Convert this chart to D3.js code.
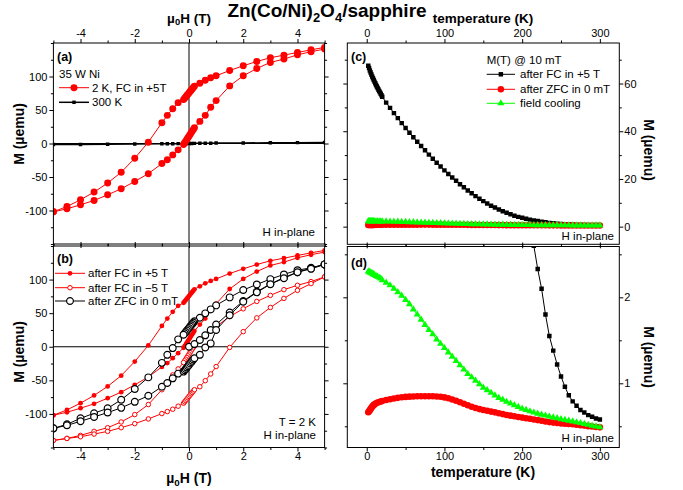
<!DOCTYPE html>
<html><head><meta charset="utf-8">
<script src="https://cdn.jsdelivr.net/npm/d3@7"></script>
<style>body{margin:0;background:#fff}svg{display:block}text{font-family:"Liberation Sans",Arial,sans-serif}</style>
</head><body><script>
// ---------------- DATA ----------------
// Panels (a),(b): field sweeps in Tesla
const fieldDown = [5,4.5,4,3.5,3,2.5,2,1.5,1,0.8,0.6,0.4,0.2,0.16,0.12,0.08,0.04,0,-0.04,-0.08,-0.12,-0.16,-0.2,-0.4,-0.6,-0.8,-1,-1.5,-2,-2.5,-3,-3.5,-4,-4.5,-5];
const fieldUp = [-5,-4.5,-4,-3.5,-3,-2.5,-2,-1.5,-1,-0.8,-0.6,-0.4,-0.2,-0.16,-0.12,-0.08,-0.04,0,0.04,0.08,0.12,0.16,0.2,0.4,0.6,0.8,1,1.5,2,2.5,3,3.5,4,4.5,5];
// 2 K, after FC in +5 T (µemu)
const fcPlusDown = [143.5,139.8,135.9,131.9,128,122.4,116,109,101,98,94.5,90,85.5,83.5,81.5,79.5,77.5,75.5,73.5,71.5,69.5,67.5,65.5,61,52,42,31,2,-22,-43,-59,-72.5,-84,-94,-102];
const fcPlusUp = [-102,-97.5,-91.5,-85,-76.6,-67.6,-56.7,-45,-30,-24.3,-17,-9.5,-1.5,1,3.5,6,8.5,11,13.5,16,18.5,21,23.5,33,42,54,64,86,101,112,121,126,132.4,137,141];
// 2 K, after FC in -5 T
const fcMinusDown = [104,97,91.5,85,76.5,67.5,56.5,45,30,24,17,9.5,1.5,-1,-3.5,-6,-8.5,-11,-13.5,-16,-18.5,-21,-23.5,-33,-42,-54,-64,-86,-101,-112,-120.5,-126,-132,-136.5,-139.5];
const fcMinusUp = [-139.5,-136.5,-134,-130,-126,-120.5,-114.5,-107.5,-99.5,-96.5,-93,-88.5,-84,-82,-80,-78,-76,-74,-72,-70,-68,-66,-64,-59.5,-50.5,-40.5,-29.5,-1,22.5,43,58.5,72,84,94,104];
// 2 K, after ZFC in 0 mT
const zfcVirginField = [0,0.2,0.4,0.6,0.8,1,1.5,2,2.5,3,3.5,4,4.5,5];
const zfcVirgin = [0,4,10,17,25,33,51,68,82,93.5,103,111,117,122.6];
const zfcDown = [122.6,117.5,114,107.7,100.7,92.8,84.4,73.5,61.6,55.6,49.7,43.2,38,36,34,32,30,28,26,24,22,20,18,11,-2,-12,-24,-45.6,-63,-79,-91.7,-99,-106.6,-115.5,-121.5];
const zfcUp = [-121.5,-117,-111,-104.5,-98,-91,-82,-73,-59.5,-54,-47,-40,-37,-35,-33,-31,-29,-27,-25,-23,-21,-19,-17,-12,-1,5,25,47,67,81,93,102,111,116,122.6];
// 300 K
const field300 = [-5,-4,-3,-2,-1,-0.8,-0.6,-0.4,-0.2,-0.1,0,0.1,0.2,0.4,0.6,0.8,1,2,3,4,5];
const m300 = [-1.6,-1.4,-1.1,-0.8,-0.5,-0.4,-0.3,-0.2,-0.1,0,0,0.1,0.2,0.3,0.4,0.5,0.6,0.8,1.1,1.3,1.5];

// Panels (c),(d): M(T) @ 10 mT
const tempFC = [2,3,4,5,6,7,8,9,10,11,12,13,14,15,16,17,18,19,20,25,30,35,40,45,50,55,60,65,70,75,80,85,90,95,100,105,110,115,120,125,130,135,140,145,150,155,160,165,170,175,180,185,190,195,200,205,210,215,220,225,230,235,240,245,250,255,260,265,270,275,280,285,290,295,300];
const mFC = [67.5,66.5,65.5,64.6,63.8,63,62.2,61.5,60.8,60.1,59.4,58.8,58.1,57.5,56.9,56.3,55.7,55.1,54.5,52,49.8,47.6,45.5,43.4,41.4,39.4,37.5,35.6,33.8,32,30.2,28.5,26.8,25.2,23.6,22.1,20.6,19.2,17.8,16.5,15.2,14,12.8,11.7,10.7,9.7,8.8,8.0,7.2,6.5,5.8,5.2,4.6,4.1,3.7,3.3,2.95,2.6,2.33,2.1,1.8,1.55,1.38,1.22,1.08,0.96,0.86,0.79,0.74,0.69,0.66,0.63,0.61,0.59,0.58];
const tempLow = [2,3,4,5,6,7,8,9,10,12,14,16,18,20,25,30,35,40,45,50,55,60,65,70,75,80,85,90,95,100,105,110,115,120,125,130,135,140,145,150,155,160,165,170,175,180,185,190,195,200,205,210,215,220,225,230,235,240,245,250,255,260,265,270,275,280,285,290,295,300];
const mZFC = [0.663,0.675,0.688,0.700,0.715,0.728,0.738,0.747,0.755,0.768,0.776,0.783,0.789,0.794,0.806,0.815,0.823,0.831,0.838,0.842,0.845,0.847,0.849,0.850,0.850,0.850,0.849,0.847,0.843,0.836,0.826,0.812,0.797,0.780,0.762,0.745,0.728,0.713,0.700,0.690,0.680,0.671,0.662,0.652,0.642,0.632,0.624,0.616,0.608,0.601,0.594,0.587,0.580,0.572,0.564,0.556,0.549,0.543,0.538,0.534,0.530,0.526,0.523,0.518,0.513,0.508,0.502,0.497,0.492,0.488];
const mFCool = [2.30,2.30,2.29,2.29,2.28,2.28,2.27,2.27,2.26,2.25,2.24,2.23,2.22,2.20,2.17,2.14,2.10,2.06,2.02,1.97,1.92,1.86,1.80,1.74,1.68,1.62,1.57,1.51,1.46,1.41,1.36,1.31,1.26,1.21,1.16,1.11,1.07,1.03,0.99,0.95,0.92,0.89,0.86,0.83,0.81,0.785,0.765,0.745,0.725,0.705,0.69,0.675,0.66,0.648,0.636,0.625,0.614,0.604,0.594,0.584,0.574,0.565,0.556,0.547,0.538,0.528,0.518,0.508,0.498,0.49];

// tick values
const hMajor = [-4,-2,0,2,4], hMinor = [-5,-3,-1,1,3,5];
const mMajor = [-100,-50,0,50,100], mMinor = [-150,-125,-75,-25,25,75,125,150];
const tMajor = [0,100,200,300], tMinor = [50,150,250];
const cMajor = [0,20,40,60], cMinor = [10,30,50,70];
const dMajor = [1,2], dMinor = [0.5,1.5,2.5];

// ---------------- DRAW ----------------
const RED = '#ff0000', GREEN = '#00ff00', FONT = '"Liberation Sans",Arial,sans-serif';
const svg = d3.select('body').append('svg').attr('width',683).attr('height',490);
const defs = svg.append('defs');

const xH = d3.scaleLinear([-5,5],[53.4,324.6]);
const yA = d3.scaleLinear([-150,150],[244,43]);
const yB = d3.scaleLinear([-150,150],[447.5,246]);
const xT = d3.scaleLinear([-25,325],[347.3,619.3]);
const yC = d3.scaleLinear([-7.4,77],[244.3,43]);
const yD = d3.scaleLinear([0.2535,2.591],[447.5,246.5]);

let clipN = 0;
function panel(x, y) {
  const [x0,x1] = x.range(), [y1,y0] = y.range();
  const id = 'clip'+(clipN++);
  defs.append('clipPath').attr('id',id).append('rect').attr('x',x0).attr('y',y0).attr('width',x1-x0).attr('height',y1-y0);
  const g = svg.append('g');
  const plot = g.append('g').attr('clip-path',`url(#${id})`);
  g.append('rect').attr('x',x0).attr('y',y0).attr('width',x1-x0).attr('height',y1-y0).attr('fill','none').attr('stroke','#000').attr('stroke-width',1);
  return {g, plot, x0, x1, y0, y1};
}
function axis(p, orient, scale, values, size, labeled, pad) {
  const mk = {top:d3.axisTop,bottom:d3.axisBottom,left:d3.axisLeft,right:d3.axisRight}[orient];
  const ax = mk(scale).tickValues(values).tickSizeInner(size).tickSizeOuter(0).tickPadding(pad==null?2:pad)
    .tickFormat(labeled ? (d => String(d)) : () => '');
  const tr = orient==='top' ? `translate(0,${p.y0})` : orient==='bottom' ? `translate(0,${p.y1})` : orient==='left' ? `translate(${p.x0},0)` : `translate(${p.x1},0)`;
  const s = p.g.append('g').attr('transform',tr).call(ax).attr('font-family',FONT).attr('font-size',11);
  s.select('.domain').remove();
  s.selectAll('line').attr('stroke','#000');
  s.selectAll('text').attr('fill','#000');
}
function series(p, xs, ys, xs_, ys_, opt) {
  const pts = xs.map((v,i)=>[v, ys[i]]);
  if (opt.line !== false)
    p.plot.append('path').datum(pts).attr('d', d3.line().x(d=>xs_(d[0])).y(d=>ys_(d[1])))
      .attr('fill','none').attr('stroke',opt.color).attr('stroke-width',opt.lw||1);
  const sym = d3.symbol().type(opt.shape).size(opt.size);
  p.plot.append('g').selectAll('path').data(pts).join('path')
    .attr('transform',d=>`translate(${xs_(d[0])},${ys_(d[1])})`).attr('d',sym)
    .attr('fill',opt.fill).attr('stroke',opt.stroke||'none').attr('stroke-width',opt.sw||1);
}
function txt(x,y,s,o={}) {
  return svg.append('text').attr('x',x).attr('y',y).text(s)
    .attr('font-size',o.size||11.5).attr('font-weight',o.bold?'bold':'normal').attr('text-anchor',o.anchor||'start').attr('fill','#000');
}
function legendItem(x0,x1,y,opt,label,tx) {
  svg.append('line').attr('x1',x0).attr('x2',x1).attr('y1',y).attr('y2',y).attr('stroke',opt.color).attr('stroke-width',opt.lw||1);
  svg.append('path').attr('transform',`translate(${(x0+x1)/2},${y})`).attr('d',d3.symbol().type(opt.shape).size(opt.size)())
    .attr('fill',opt.fill).attr('stroke',opt.stroke||'none').attr('stroke-width',opt.sw||1);
  txt(tx, y+4, label);
}
function zeroLines(p, ys) {
  p.plot.append('line').attr('x1',p.x0).attr('x2',p.x1).attr('y1',ys(0)).attr('y2',ys(0)).attr('stroke','#000');
  p.plot.append('line').attr('x1',xH(0)).attr('x2',xH(0)).attr('y1',p.y0).attr('y2',p.y1).attr('stroke','#000');
}

// styles
const sFCa = {color:RED, shape:d3.symbolCircle, size:38, fill:RED};
const s300 = {color:'#000', shape:d3.symbolSquare, size:12, fill:'#000', lw:1.5};
const sFCb = {color:RED, shape:d3.symbolCircle, size:18, fill:RED};
const sFCm = {color:RED, shape:d3.symbolCircle, size:16, fill:'#fff', stroke:RED, sw:1};
const sZFC = {color:'#000', shape:d3.symbolCircle, size:36, fill:'#fff', stroke:'#000', sw:1.2};
const sTFC = {color:'#000', shape:d3.symbolSquare, size:20, fill:'#000'};
const sTZ = {color:RED, shape:d3.symbolCircle, size:34, fill:RED};
const sTG = {color:GREEN, shape:d3.symbolTriangle, size:22, fill:GREEN};

// Panel (a)
const pA = panel(xH, yA);
zeroLines(pA, yA);
series(pA, field300, m300, xH, yA, s300);
series(pA, fieldDown, fcPlusDown, xH, yA, sFCa);
series(pA, fieldUp, fcPlusUp, xH, yA, sFCa);
axis(pA,'top',xH,hMajor,4,true); axis(pA,'top',xH,hMinor,2.5,false);
axis(pA,'bottom',xH,hMajor,4,false); axis(pA,'bottom',xH,hMinor,2.5,false);
axis(pA,'left',yA,mMajor,4,true); axis(pA,'left',yA,mMinor,2.5,false);
axis(pA,'right',yA,mMajor,4,false); axis(pA,'right',yA,mMinor,2.5,false);

// Panel (b)
const pB = panel(xH, yB);
zeroLines(pB, yB);
series(pB, fieldDown, fcMinusDown, xH, yB, sFCm);
series(pB, fieldUp, fcMinusUp, xH, yB, sFCm);
series(pB, fieldDown, fcPlusDown, xH, yB, sFCb);
series(pB, fieldUp, fcPlusUp, xH, yB, sFCb);
series(pB, zfcVirginField, zfcVirgin, xH, yB, sZFC);
series(pB, fieldDown, zfcDown, xH, yB, sZFC);
series(pB, fieldUp, zfcUp, xH, yB, sZFC);
axis(pB,'top',xH,hMajor,4,false); axis(pB,'top',xH,hMinor,2.5,false);
axis(pB,'bottom',xH,hMajor,4,true,1); axis(pB,'bottom',xH,hMinor,2.5,false);
axis(pB,'left',yB,mMajor,4,true); axis(pB,'left',yB,mMinor,2.5,false);
axis(pB,'right',yB,mMajor,4,false); axis(pB,'right',yB,mMinor,2.5,false);

// Panel (c)
const pC = panel(xT, yC);
series(pC, tempFC, mFC, xT, yC, sTFC);
series(pC, tempLow, mZFC, xT, yC, sTZ);
series(pC, tempLow, mFCool, xT, yC, sTG);
axis(pC,'top',xT,tMajor,4,true); axis(pC,'top',xT,tMinor,2.5,false);
axis(pC,'bottom',xT,tMajor,4,false); axis(pC,'bottom',xT,tMinor,2.5,false);
axis(pC,'right',yC,cMajor,4,true,1); axis(pC,'right',yC,cMinor,2.5,false);
axis(pC,'left',yC,cMajor,4,false); axis(pC,'left',yC,cMinor,2.5,false);

// Panel (d)
const pD = panel(xT, yD);
series(pD, tempFC, mFC, xT, yD, sTFC);
series(pD, tempLow, mZFC, xT, yD, sTZ);
series(pD, tempLow, mFCool, xT, yD, sTG);
axis(pD,'top',xT,tMajor,4,false); axis(pD,'top',xT,tMinor,2.5,false);
axis(pD,'bottom',xT,tMajor,4,true,1); axis(pD,'bottom',xT,tMinor,2.5,false);
axis(pD,'right',yD,dMajor,4,true,1); axis(pD,'right',yD,dMinor,2.5,false);
axis(pD,'left',yD,dMajor,4,false); axis(pD,'left',yD,dMinor,2.5,false);

// ---------------- TEXT ----------------
const title = svg.append('text').attr('x',327).attr('y',17).attr('font-size',19).attr('font-weight','bold').attr('text-anchor','middle');
title.append('tspan').text('Zn(Co/Ni)');
title.append('tspan').attr('font-size',13).attr('dy',5).text('2');
title.append('tspan').attr('dy',-5).text('O');
title.append('tspan').attr('font-size',13).attr('dy',5).text('4');
title.append('tspan').attr('dy',-5).text('/sapphire');

function muH(x,y,size,anchor) {
  const t = svg.append('text').attr('x',x).attr('y',y).attr('font-size',size).attr('font-weight','bold').attr('text-anchor',anchor);
  t.append('tspan').text('µ');
  t.append('tspan').attr('font-size',size*0.7).attr('dy',size*0.22).text('0');
  t.append('tspan').attr('dy',-size*0.22).text('H (T)');
}
muH(189,22.5,13.5,'middle');
txt(483,22.5,'temperature (K)',{bold:true,size:13.5,anchor:'middle'});
muH(189,483,14,'middle');
txt(483,477,'temperature (K)',{bold:true,size:14,anchor:'middle'});

function yLabel(x,y,rot) {
  svg.append('text').attr('transform',`translate(${x},${y}) rotate(${rot})`).attr('text-anchor','middle')
    .attr('font-size',14).attr('font-weight','bold').text('M (µemu)');
}
yLabel(24,134,-90); yLabel(24,352,-90);
yLabel(644,150,90); yLabel(644,357,90);

// panel labels & legends
txt(57,61,'(a)',{bold:true,size:12.5});
txt(59,78,'35 W Ni');
legendItem(59,89,87.7,sFCa,'2 K, FC in +5T',92);
legendItem(59,89,102.3,s300,'300 K',92);
txt(315,236,'H in-plane',{anchor:'end'});

txt(57,263,'(b)',{bold:true,size:12.5});
legendItem(55,85,273.3,sFCb,'after FC in +5 T',88);
legendItem(55,85,287.7,sFCm,'after FC in \u22125 T',88);
legendItem(55,85,301,sZFC,'after ZFC in 0 mT',88);
txt(316,425.5,'T = 2 K',{anchor:'end'});
txt(316,438.5,'H in-plane',{anchor:'end'});

txt(351,61,'(c)',{bold:true,size:12.5});
txt(486.7,64,'M(T) @ 10 mT');
legendItem(486.7,515,74.3,sTFC,'after FC in +5 T',520);
legendItem(486.7,515,89.3,sTZ,'after ZFC in 0 mT',520);
legendItem(486.7,515,103.3,sTG,'field cooling',520);
txt(614,240,'H in-plane',{anchor:'end'});

txt(351,267,'(d)',{bold:true,size:12.5});
txt(614,442,'H in-plane',{anchor:'end'});
</script></body></html>
